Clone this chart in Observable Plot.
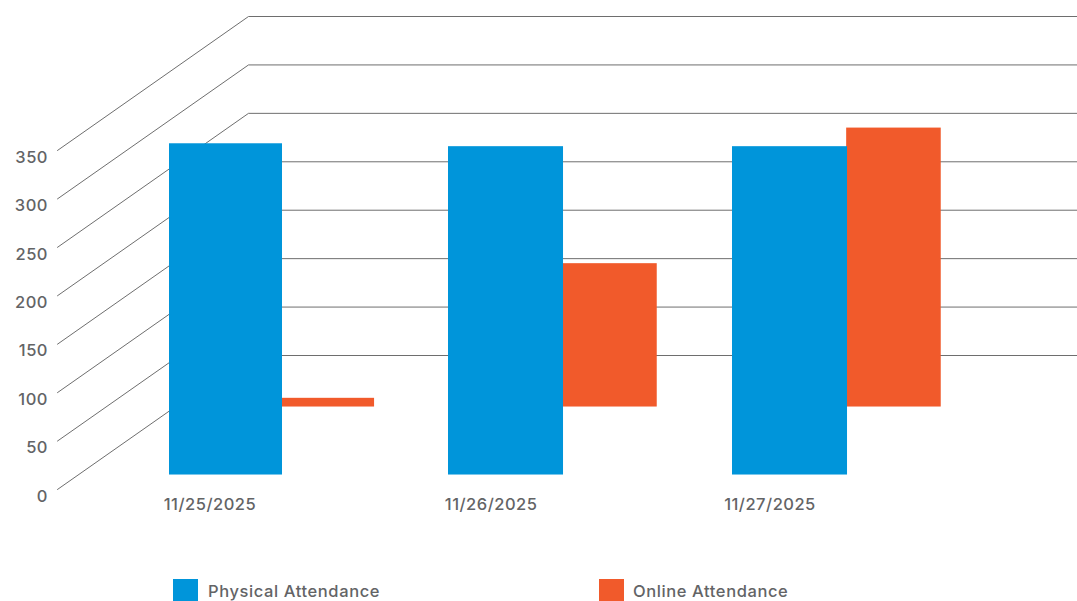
<!DOCTYPE html>
<html>
<head>
<meta charset="utf-8">
<script src="https://cdn.jsdelivr.net/npm/d3@7"></script>
<script src="https://cdn.jsdelivr.net/npm/@observablehq/plot@0.6"></script>
<style>
  html, body { margin: 0; padding: 0; background: #fff; }
  svg { display: block; }
  #legend { position: relative; width: 1077px; height: 31px; font: 500 16.5px Inter, sans-serif; letter-spacing: 0.6px; color: #636466; }
  #legend i { position: absolute; top: 9px; width: 25px; height: 22px; }
  #legend span { position: absolute; top: 11px; line-height: 20px; white-space: nowrap; }
</style>
</head>
<body>
<div id="chart"></div>
<div id="legend"></div>
<script>
// Attendance per event day
const dates = ["11/25/2025", "11/26/2025", "11/27/2025"];
const physical = [342, 339, 339];
const online = [9, 148, 288];
const ticks = [0, 50, 100, 150, 200, 250, 300, 350];

const BLUE = "#0095da";
const ORANGE = "#f15a2b";
const INK = "#636466";

// Oblique projection: the wall sits at depth 0, and nearer layers drop by a fixed
// amount in value units. Horizontal positions are in days.
const depth = {front: -138.3, blue: -123.4, orange: -53.2};
const wall = {front: -0.4014, back: 0.2832, right: 3.2148};
const slot = {blueEnd: 0.405, orangeStart: 0.402, orangeEnd: 0.735};
const dateLabelAt = [0.145, 1.15, 2.132];

// Days are spaced slightly unevenly across the floor of the chart
const dayPosition = d3.scaleLinear([0, 1, 2], [169, 448, 732]);

const gridLines = ticks.flatMap((t) => [
  {tick: t, x: wall.front, y: t + depth.front},
  {tick: t, x: wall.back, y: t},
  {tick: t, x: wall.right, y: t}
]);

const blueBars = physical.map((v, i) => ({
  x1: i, x2: i + slot.blueEnd, y1: depth.blue, y2: depth.blue + v
}));
const orangeBars = online.map((v, i) => ({
  x1: i + slot.orangeStart, x2: i + slot.orangeEnd, y1: depth.orange, y2: depth.orange + v
}));

const font = "Inter, sans-serif";

const plot = Plot.plot({
  width: 1077,
  height: 570,
  margin: 0,
  style: {background: "#fff", fontFamily: font, letterSpacing: "0.5px"},
  x: {axis: null, transform: dayPosition, domain: [0, 1077], range: [0, 1077]},
  y: {axis: null, domain: [0, 350], range: [355, 16]},
  marks: [
    Plot.line(gridLines, {x: "x", y: "y", z: "tick", stroke: "#6e6e6e", strokeWidth: 1, curve: "linear"}),
    Plot.rect(orangeBars, {x1: "x1", x2: "x2", y1: "y1", y2: "y2", fill: ORANGE}),
    Plot.rect(blueBars, {x1: "x1", x2: "x2", y1: "y1", y2: "y2", fill: BLUE}),
    Plot.text(ticks, {
      x: () => wall.front, y: (t) => t + depth.front, text: (t) => String(t),
      dx: -9.5, dy: 7, textAnchor: "end", fontSize: 16.5, fontWeight: 500, fill: INK, fontFamily: font
    }),
    Plot.text(dates, {
      x: (d, i) => dateLabelAt[i], y: () => depth.front - 15.5, text: (d) => d,
      textAnchor: "middle", fontSize: 16.5, fontWeight: 500, fill: INK, fontFamily: font
    })
  ]
});
document.getElementById("chart").append(plot);

// Legend row under the chart
const legend = document.getElementById("legend");
[["Physical Attendance", BLUE, 173, 35], ["Online Attendance", ORANGE, 599, 34]].forEach(([label, color, left, gap]) => {
  const swatch = document.createElement("i");
  swatch.style.left = left + "px";
  swatch.style.background = color;
  const text = document.createElement("span");
  text.style.left = left + gap + "px";
  text.textContent = label;
  legend.append(swatch, text);
});
</script>
</body>
</html>
